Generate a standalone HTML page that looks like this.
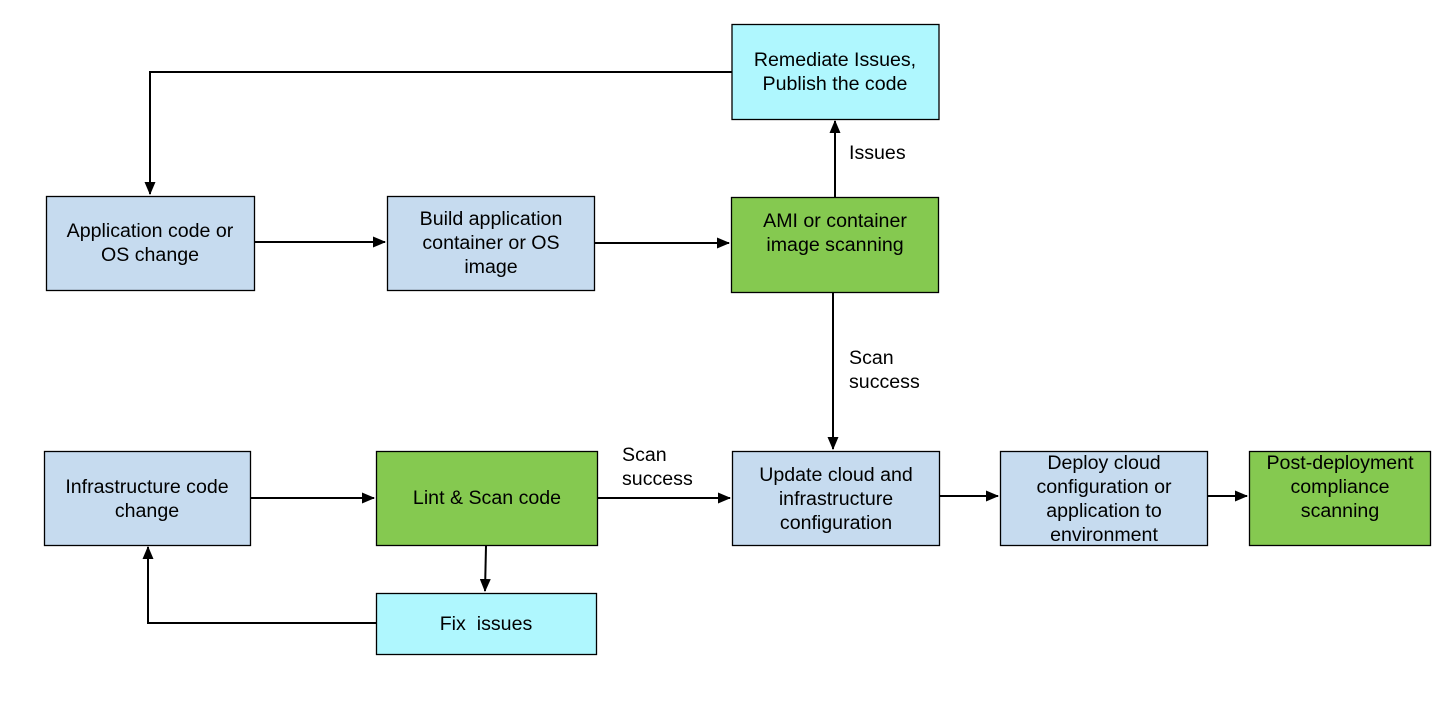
<!DOCTYPE html>
<html><head><meta charset="utf-8"><style>
html,body{margin:0;padding:0;background:#fff;}
svg text{font-family:"Liberation Sans",Arial,sans-serif;font-size:19.6px;fill:#000;}
</style></head><body>
<svg width="1432" height="714" viewBox="0 0 1432 714" xmlns="http://www.w3.org/2000/svg">
<defs><marker id="a" markerWidth="13" markerHeight="11" refX="12" refY="5.5" orient="auto" markerUnits="userSpaceOnUse"><path d="M0,0 L13,5.5 L0,11 Z" fill="#000"/></marker></defs>
<g stroke="#000" stroke-width="1.3">
<rect x="732" y="24.5" width="207" height="95" fill="#aff7fe"/>
<rect x="46.5" y="196.5" width="208" height="94" fill="#c6dbef"/>
<rect x="387.5" y="196.5" width="207" height="94" fill="#c6dbef"/>
<rect x="731.5" y="197.5" width="207" height="95" fill="#85c950"/>
<rect x="44.5" y="451.5" width="206" height="94" fill="#c6dbef"/>
<rect x="376.5" y="451.5" width="221" height="94" fill="#85c950"/>
<rect x="732.5" y="451.5" width="207" height="94" fill="#c6dbef"/>
<rect x="1000.5" y="451.5" width="207" height="94" fill="#c6dbef"/>
<rect x="1249.5" y="451.5" width="181" height="94" fill="#85c950"/>
<rect x="376.5" y="593.5" width="220" height="61" fill="#aff7fe"/>
</g>
<g stroke="#000" stroke-width="2" fill="none">
<path d="M732,72 H150 V194" marker-end="url(#a)"/>
<path d="M255,242 H385" marker-end="url(#a)"/>
<path d="M595,243 H729" marker-end="url(#a)"/>
<path d="M835,197 V121" marker-end="url(#a)"/>
<path d="M833,293 V449" marker-end="url(#a)"/>
<path d="M251,498 H374" marker-end="url(#a)"/>
<path d="M598,498 H730" marker-end="url(#a)"/>
<path d="M940,496 H998" marker-end="url(#a)"/>
<path d="M1208,496 H1247" marker-end="url(#a)"/>
<path d="M486,546 L485,591" marker-end="url(#a)"/>
<path d="M376,623 H148 V547" marker-end="url(#a)"/>
</g>
<g text-anchor="middle">
<text x="835" y="66">Remediate Issues,</text><text x="835" y="90">Publish the code</text>
<text x="150" y="237">Application code or</text><text x="150" y="261">OS change</text>
<text x="491" y="225">Build application</text><text x="491" y="249">container or OS</text><text x="491" y="273">image</text>
<text x="835" y="227">AMI or container</text><text x="835" y="251">image scanning</text>
<text x="147" y="493">Infrastructure code</text><text x="147" y="517">change</text>
<text x="487" y="504">Lint &amp; Scan code</text>
<text x="836" y="481">Update cloud and</text><text x="836" y="505">infrastructure</text><text x="836" y="529">configuration</text>
<text x="1104" y="469">Deploy cloud</text><text x="1104" y="493">configuration or</text><text x="1104" y="517">application to</text><text x="1104" y="541">environment</text>
<text x="1340" y="469">Post-deployment</text><text x="1340" y="493">compliance</text><text x="1340" y="517">scanning</text>
<text x="486" y="630" xml:space="preserve">Fix  issues</text>
</g>
<text x="849" y="159">Issues</text>
<text x="849" y="364">Scan</text><text x="849" y="388">success</text>
<text x="622" y="461">Scan</text><text x="622" y="485">success</text>
</svg>
</body></html>
